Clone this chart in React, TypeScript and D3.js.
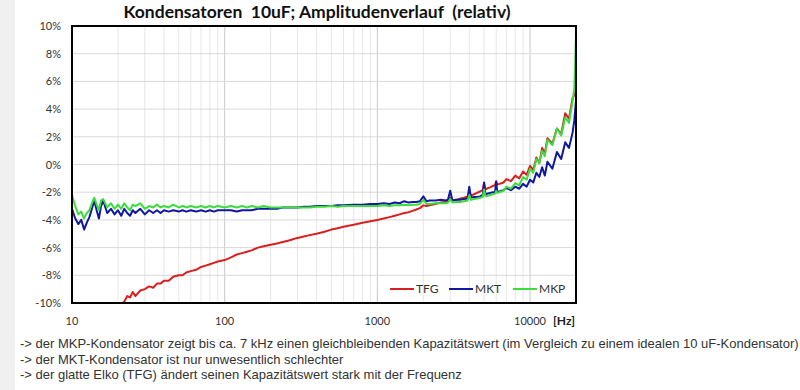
import * as d3 from 'd3';

// Frequencies (Hz) and relative deviation (%)
const freqs = [
  10, 10.5, 11, 11.5, 12, 12.5, 13, 13.5, 14, 14.5, 15, 15.5, 16, 17, 18, 19, 20, 21, 22, 23, 24, 25, 26, 28, 30,
  32, 34, 36, 38, 40, 43, 46, 50, 53, 56, 60, 65, 70, 75, 80, 85, 90, 100, 110, 120, 130, 140, 150, 165, 180,
  200, 220, 240, 260, 280, 300, 330, 360, 400, 450, 500, 550, 600, 700, 800, 900, 1000, 1100, 1200, 1300, 1400,
  1500, 1600, 1700, 1800, 1900, 2000, 2100, 2200, 2400, 2600, 2800, 2900, 3000, 3100, 3300, 3500, 3700, 3900,
  4000, 4100, 4300, 4500, 4700, 4900, 5000, 5100, 5300, 5500, 5700, 5900, 6000, 6100, 6300, 6500, 6700, 7000,
  7500, 8000, 8500, 9000, 9500, 10000, 10500, 11000, 11500, 12000, 12500, 13000, 14000, 15000, 16000, 17000,
  18000, 19000, 19500, 20000,
];

const tfg = [
  -14, -14, -14, -13.5, -13.5, -13, -13, -12.5, -12.5, -12, -12, -11.8, -11.5, -11.2, -10.8, -10.3, -10.0, -10.1,
  -9.9, -9.5, -9.6, -9.2, -9.5, -9.1, -9.0, -8.8, -8.9, -8.6, -8.6, -8.4, -8.4, -8.1, -8.0, -8.0, -7.8, -7.7,
  -7.6, -7.4, -7.3, -7.2, -7.1, -7.0, -6.9, -6.7, -6.5, -6.4, -6.3, -6.2, -6.0, -5.9, -5.8, -5.7, -5.6, -5.5,
  -5.4, -5.3, -5.2, -5.1, -5.0, -4.85, -4.7, -4.6, -4.5, -4.35, -4.2, -4.1, -4.0, -3.9, -3.8, -3.7, -3.6, -3.5,
  -3.45, -3.35, -3.25, -3.15, -2.95, -3.0, -2.95, -2.85, -2.75, -2.7, -2.65, -2.4, -2.6, -2.55, -2.45, -2.4,
  -2.3, -2.0, -2.25, -2.15, -2.05, -1.95, -1.85, -1.35, -1.8, -1.7, -1.65, -1.55, -1.5, -1.2, -1.45, -1.4, -1.35,
  -1.3, -1.05, -1.2, -0.8, -1.0, -0.5, -0.75, -0.1, -0.4, 0.5, 0.1, 1.2, 0.8, 1.9, 1.5, 2.6, 2.2, 3.7, 3.3, 4.8,
  5.0, 5.4,
];

const mkt = [
  -3.2, -3.9, -4.3, -4.0, -4.7, -4.2, -3.8, -3.2, -2.6, -3.3, -3.9, -3.0, -2.6, -3.5, -3.2, -3.6, -3.3, -3.7,
  -3.2, -3.5, -3.7, -3.3, -3.5, -3.2, -3.6, -3.3, -3.5, -3.3, -3.5, -3.3, -3.4, -3.3, -3.4, -3.3, -3.4, -3.3,
  -3.4, -3.3, -3.4, -3.3, -3.4, -3.3, -3.3, -3.3, -3.4, -3.3, -3.3, -3.3, -3.2, -3.2, -3.2, -3.2, -3.1, -3.1,
  -3.1, -3.1, -3.05, -3.05, -3.0, -3.0, -3.0, -2.95, -2.95, -2.9, -2.9, -2.85, -2.85, -2.8, -2.85, -2.75, -2.8,
  -2.65, -2.75, -2.7, -2.7, -2.65, -2.3, -2.65, -2.6, -2.6, -2.55, -2.6, -2.55, -1.9, -2.6, -2.55, -2.55, -2.5,
  -2.45, -1.6, -2.4, -2.35, -2.35, -2.3, -2.2, -1.3, -2.15, -2.1, -2.05, -2.0, -2.0, -1.25, -2.0, -1.95, -1.9,
  -1.85, -1.7, -1.85, -1.6, -1.75, -1.4, -1.6, -1.1, -1.3, -0.6, -0.9, -0.2, -0.8, 0.2, -0.3, 0.9, 0.4, 1.6, 1.2,
  2.3, 3.2, 4.6,
];

const mkp = [
  -2.2, -3.0, -3.6, -3.4, -3.9, -3.5, -3.3, -2.8, -2.4, -2.9, -3.3, -2.6, -2.5, -3.1, -2.8, -3.2, -2.9, -3.2,
  -2.8, -3.1, -3.3, -2.9, -3.0, -2.8, -3.2, -3.0, -3.1, -2.9, -3.1, -3.0, -3.1, -2.9, -3.1, -3.0, -3.1, -3.0,
  -3.1, -3.0, -3.1, -3.0, -3.1, -3.0, -3.1, -3.0, -3.1, -3.0, -3.1, -3.0, -3.1, -3.0, -3.1, -3.1, -3.1, -3.1,
  -3.1, -3.1, -3.1, -3.1, -3.05, -3.05, -3.0, -3.05, -3.0, -3.0, -3.0, -3.0, -3.0, -2.95, -3.0, -2.95, -2.95,
  -2.9, -2.95, -2.9, -2.9, -2.85, -2.55, -2.85, -2.85, -2.8, -2.8, -2.8, -2.75, -2.5, -2.75, -2.7, -2.7, -2.65,
  -2.6, -2.2, -2.55, -2.5, -2.45, -2.4, -2.35, -1.8, -2.3, -2.25, -2.2, -2.15, -2.1, -1.9, -2.05, -2.0, -1.95,
  -1.9, -1.6, -1.75, -1.35, -1.5, -0.9, -1.1, -0.3, -0.6, 0.4, 0.1, 1.0, 0.6, 1.8, 1.4, 2.6, 2.1, 3.4, 3.0, 4.6,
  5.5, 9.3,
];

const seriesNames = ['TFG', 'MKT', 'MKP'];
const seriesColors = ['#d8201e', '#1018a0', '#3ddc3d'];
const seriesValues = [tfg, mkt, mkp];

const xTickLabels = [10, 100, 1000, 10000];

const notes = [
  '-> der MKP-Kondensator zeigt bis ca. 7 kHz einen gleichbleibenden Kapazitätswert (im Vergleich zu einem idealen 10 uF-Kondensator)',
  '-> der MKT-Kondensator ist nur unwesentlich schlechter',
  '-> der glatte Elko (TFG) ändert seinen Kapazitätswert stark mit der Frequenz',
];

export default function App() {
  const width = 800;
  const height = 390;
  const plot = { left: 72, right: 576, top: 26, bottom: 303 };

  const x = d3.scaleLog().domain([10, 20000]).range([plot.left, plot.right]);
  const y = d3.scaleLinear().domain([-10, 10]).range([plot.bottom, plot.top]);

  const line = d3
    .line<number>()
    .x((_, i) => x(freqs[i]))
    .y((d) => y(d));

  const majors = new Set(xTickLabels);
  const font = 'Lato, "Open Sans", sans-serif';

  return (
    <svg
      width={width}
      height={height}
      style={{ position: 'absolute', left: 0, top: 0, background: '#fff' }}
    >
      <rect x={0} y={0} width={15} height={height} fill="#f0f0f0" />

      <text
        x={317}
        y={18}
        textAnchor="middle"
        fontFamily={font}
        fontWeight="bold"
        fontSize={17.5}
        fill="#111"
        style={{ whiteSpace: 'pre' }}
      >
        Kondensatoren  10uF; Amplitudenverlauf  (relativ)
      </text>

      <defs>
        <clipPath id="plot-clip">
          <rect x={plot.left} y={plot.top} width={plot.right - plot.left} height={plot.bottom - plot.top} />
        </clipPath>
      </defs>

      {/* grid */}
      {x.ticks().filter((t) => t > 10 && t < 20000).map((t) => (
        <line
          key={'gx' + t}
          x1={x(t)}
          x2={x(t)}
          y1={plot.top}
          y2={plot.bottom}
          stroke={majors.has(t) ? '#c8c8c8' : '#e6e6e6'}
          strokeWidth={1}
        />
      ))}
      {y.ticks(10).map((t) => (
        <line
          key={'gy' + t}
          x1={plot.left}
          x2={plot.right}
          y1={y(t)}
          y2={y(t)}
          stroke="#d9d9d9"
          strokeWidth={1}
        />
      ))}

      {/* series */}
      <g clipPath="url(#plot-clip)">
        {seriesValues.map((vals, i) => (
          <path
            key={seriesNames[i]}
            d={line(vals) || ''}
            fill="none"
            stroke={seriesColors[i]}
            strokeWidth={2}
            strokeLinejoin="round"
          />
        ))}
      </g>

      {/* frame */}
      <rect
        x={plot.left}
        y={plot.top}
        width={plot.right - plot.left}
        height={plot.bottom - plot.top}
        fill="none"
        stroke="#000"
        strokeWidth={2}
      />

      {/* y labels */}
      {y.ticks(10).map((t) => (
        <text
          key={'ly' + t}
          x={61}
          y={y(t) + 4}
          textAnchor="end"
          fontFamily={font}
          fontSize={11}
          fill="#333"
        >
          {`${t}%`}
        </text>
      ))}

      {/* x labels */}
      {xTickLabels.map((t) => (
        <text
          key={'lx' + t}
          x={x(t)}
          y={325}
          textAnchor="middle"
          fontFamily={font}
          fontSize={11}
          fill="#333"
        >
          {t}
        </text>
      ))}
      <text x={553} y={325} fontFamily={font} fontWeight="bold" fontSize={12} fill="#222">
        [Hz]
      </text>

      {/* legend */}
      {seriesNames.map((name, i) => {
        const lx = [390, 449, 513][i];
        return (
          <g key={'lg' + name}>
            <line x1={lx} x2={lx + 24} y1={289} y2={289} stroke={seriesColors[i]} strokeWidth={2} />
            <text x={lx + 26} y={293} fontFamily={font} fontSize={12} fill="#333">
              {name}
            </text>
          </g>
        );
      })}

      {/* notes */}
      {notes.map((n, i) => (
        <text
          key={'n' + i}
          x={20}
          y={348 + i * 15.5}
          fontFamily='"Liberation Sans", Arial, sans-serif'
          fontSize={13}
          fill="#333"
        >
          {n}
        </text>
      ))}
    </svg>
  );
}
